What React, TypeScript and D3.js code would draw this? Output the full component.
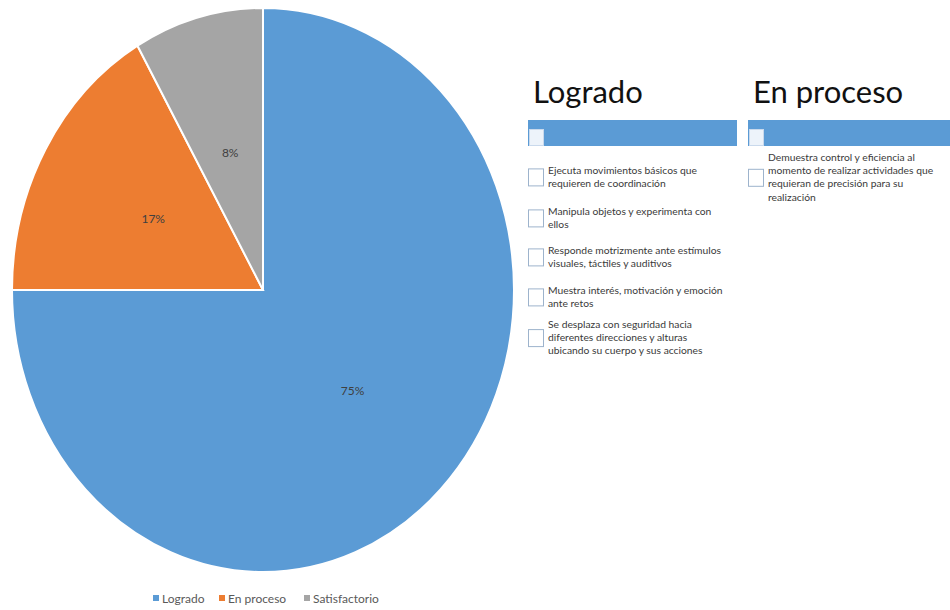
import React from "react";
import * as d3 from "d3";

const categories = ["Logrado", "En proceso", "Satisfactorio"];
const counts = [9, 2, 1];
const pctLabels = ["75%", "17%", "8%"];
const colors = ["#5B9BD5", "#ED7D31", "#A5A5A5"];

const panelTitles = ["Logrado", "En proceso"];
const logradoItems = [
  ["Ejecuta movimientos básicos que", "requieren de coordinación"],
  ["Manipula objetos y experimenta con", "ellos"],
  ["Responde motrizmente ante estímulos", "visuales, táctiles y auditivos"],
  ["Muestra interés, motivación y emoción", "ante retos"],
  ["Se desplaza con seguridad hacia", "diferentes direcciones y alturas", "ubicando su cuerpo y sus acciones"],
];
const enProcesoItems = [
  ["Demuestra control y eficiencia al", "momento de realizar actividades que", "requieran de precisión para su", "realización"],
];
const logradoItemTops = [164, 205, 244, 284, 318];
const enProcesoItemTops = [151];

const FONT = "Lato, 'Open Sans', sans-serif";

export default function App() {
  const cx = 263, cy = 290, r = 251, sy = 282 / 251;
  const pie = d3.pie<number>().sort(null).value((d) => d)(counts);
  const arc = d3.arc<d3.PieArcDatum<number>>().innerRadius(0).outerRadius(r);
  const labelArc = d3.arc<d3.PieArcDatum<number>>().innerRadius(r * 0.505).outerRadius(r * 0.505);

  const lineH = 13.4;
  const renderItem = (lines: string[], top: number, x: number, key: number) => {
    const h = lines.length * lineH;
    const boxY = top + h / 2 - 9;
    return (
      <g key={key}>
        <rect x={x + 0.5} y={boxY + 0.5} width={15} height={17} fill="#fff" stroke="#9DB3CC" strokeWidth={1} />
        {lines.map((l, i) => (
          <text key={i} x={x + 20} y={top + 9.5 + i * lineH} fontSize={10.3} fill="#3a3a3a" fontFamily={FONT}>
            {l}
          </text>
        ))}
      </g>
    );
  };

  const panels = [
    { x: 528, w: 209, title: panelTitles[0], items: logradoItems, tops: logradoItemTops },
    { x: 748, w: 202, title: panelTitles[1], items: enProcesoItems, tops: enProcesoItemTops },
  ];

  const legendXs = [153, 219, 304];

  return (
    <svg width={950} height={610} style={{ position: "absolute", left: 0, top: 0, background: "#fff" }}>
      <g transform={`translate(${cx},${cy}) scale(1,${sy})`}>
        {pie.map((p, i) => (
          <path key={i} d={arc(p) || ""} fill={colors[i]} stroke="#fff" strokeWidth={2} vectorEffect="non-scaling-stroke" />
        ))}
      </g>
      {pie.map((p, i) => {
        const [lx, ly] = labelArc.centroid(p);
        return (
          <text key={i} x={cx + lx} y={cy + ly * sy} textAnchor="middle" dominantBaseline="central" fontSize={12} fill="#404040" fontFamily={FONT}>
            {pctLabels[i]}
          </text>
        );
      })}
      {panels.map((pn, k) => (
        <g key={k}>
          <text x={pn.x + 5} y={103} fontSize={31} fill="#111" fontFamily={FONT}>
            {pn.title}
          </text>
          <rect x={pn.x} y={120} width={pn.w} height={26} fill="#5B9BD5" />
          <rect x={pn.x + 1.5} y={129.5} width={14} height={16} fill="#EDF3FA" stroke="#C9D9EC" strokeWidth={1} />
          {pn.items.map((lines, i) => renderItem(lines, pn.tops[i], pn.x, i))}
        </g>
      ))}
      {categories.map((c, i) => (
        <g key={c}>
          <rect x={legendXs[i]} y={595} width={6} height={6} fill={colors[i]} />
          <text x={legendXs[i] + 9} y={598} dominantBaseline="central" fontSize={12} fill="#595959" fontFamily={FONT}>
            {c}
          </text>
        </g>
      ))}
    </svg>
  );
}
